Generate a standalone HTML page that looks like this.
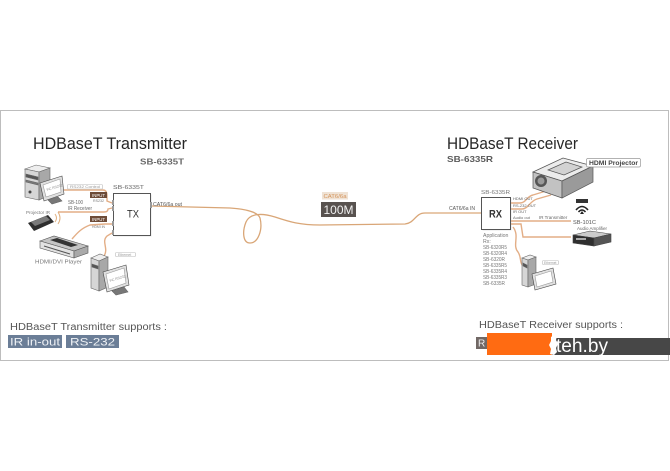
<!DOCTYPE html>
<html><head><meta charset="utf-8">
<style>html,body{margin:0;padding:0;background:#fff}svg{display:block}</style>
</head><body>
<svg width="670" height="471" viewBox="0 0 670 471" xmlns="http://www.w3.org/2000/svg" font-family="'Liberation Sans', sans-serif">
<rect x="0" y="0" width="670" height="471" fill="#fff"/>
<rect x="0.5" y="110.5" width="668" height="250" fill="#fff" stroke="#bdbdbd"/>

<!-- Titles -->
<text x="33" y="149" font-size="16.5" fill="#262626" textLength="154" lengthAdjust="spacingAndGlyphs">HDBaseT Transmitter</text>
<text x="140" y="164.5" font-size="8.5" font-weight="bold" fill="#6a6a6a" textLength="44" lengthAdjust="spacingAndGlyphs">SB-6335T</text>
<text x="447" y="149" font-size="16.5" fill="#262626" textLength="131" lengthAdjust="spacingAndGlyphs">HDBaseT Receiver</text>
<text x="447" y="162" font-size="8.5" font-weight="bold" fill="#5a5a5a" textLength="46" lengthAdjust="spacingAndGlyphs">SB-6335R</text>

<!-- main cable -->
<path d="M151,206 L230,208 C245,209 258,212 260,218 C263,230 258,243 250,243 C243,243 242,232 246,222 C250,213 262,213 275,217 C290,222 300,225 320,225 L405,224 C415,223 415,213 425,213 L481,213" fill="none" stroke="#d9a677" stroke-width="1.3"/>
<rect x="322" y="192" width="26" height="7.5" fill="#efe2d4"/>
<text x="323.5" y="198" font-size="5.8" fill="#d4935a" textLength="23" lengthAdjust="spacingAndGlyphs">CAT6/6a</text>
<rect x="321" y="202" width="35" height="15" fill="#58524f"/>
<text x="323.5" y="214" font-size="12" fill="#f2f2f2" textLength="30" lengthAdjust="spacingAndGlyphs">100M</text>

<!-- TX box -->
<rect x="114.5" y="194.5" width="37" height="42" fill="#e6e6e6"/>
<rect x="113.5" y="193.5" width="37" height="42" fill="#fff" stroke="#555"/>
<text x="127" y="217.5" font-size="11" fill="#333" textLength="12" lengthAdjust="spacingAndGlyphs">TX</text>
<text x="113" y="189" font-size="5" fill="#666" textLength="31" lengthAdjust="spacingAndGlyphs">SB-6335T</text>
<text x="153" y="206" font-size="5" fill="#555" textLength="29" lengthAdjust="spacingAndGlyphs">CAT6/6a out</text>
<rect x="150" y="202" width="2" height="6" fill="#999"/>
<rect x="112" y="200" width="2" height="5" fill="#999"/>
<rect x="112" y="206" width="2" height="5" fill="#999"/>
<rect x="112" y="221" width="2" height="5" fill="#999"/>
<rect x="112" y="230" width="2" height="5" fill="#999"/>

<!-- left connections -->
<g fill="none" stroke="#e3ae86" stroke-width="1.4">
<path d="M60,190 L103,190 Q107,190 107,196 L107,201 L112,203"/>
<path d="M58,212 L104,212 Q108,212 108,209 L112,208"/>
<path d="M72,239 C78,232 82,228 90,225 L105,224 Q109,224 112,224"/>
<path d="M104,256 C109,248 101,242 107,236 L112,233"/>
</g>
<rect x="67.5" y="184.5" width="35" height="4.5" rx="1" fill="#fff" stroke="#bbb" stroke-width=".6"/>
<text x="70" y="188.2" font-size="3.8" fill="#999" textLength="30" lengthAdjust="spacingAndGlyphs">RS232 Control</text>
<rect x="90" y="192" width="17" height="6" fill="#6e4c38"/>
<text x="92" y="196.8" font-size="4.5" fill="#fff" textLength="13" lengthAdjust="spacingAndGlyphs">INPUT</text>
<text x="93" y="202" font-size="4" fill="#777" textLength="11" lengthAdjust="spacingAndGlyphs">RS232</text>
<text x="68" y="204" font-size="5" fill="#666" textLength="15" lengthAdjust="spacingAndGlyphs">SB-100</text>
<text x="68" y="210" font-size="5" fill="#666" textLength="24" lengthAdjust="spacingAndGlyphs">IR Receiver</text>
<rect x="90" y="216" width="17" height="6" fill="#6e4c38"/>
<text x="92" y="220.8" font-size="4.5" fill="#fff" textLength="13" lengthAdjust="spacingAndGlyphs">INPUT</text>
<text x="92" y="228" font-size="4" fill="#777" textLength="13" lengthAdjust="spacingAndGlyphs">HDMI IN</text>

<!-- top-left PC -->
<g stroke="#666" stroke-width=".6">
<polygon points="25,169 36,165 50,168 39,172" fill="#eee"/>
<polygon points="25,169 39,172 39,200 25,197" fill="#d6d6d6"/>
<polygon points="39,172 50,168 50,195 39,200" fill="#a8a8a8"/>
<polygon points="26,174 38,177 38,180 26,177" fill="#555"/>
<polygon points="26,180 38,183 38,185 26,182" fill="#777"/>
<polygon points="40,183 62,176 64,194 44,201" fill="#e0e0e0" stroke="#444"/>
<polygon points="43,185 60,179 61,192 46,197" fill="#fff" stroke="#999"/>
<polygon points="48,200 58,197 62,201 52,204" fill="#777"/>
</g>
<circle cx="30" cy="192" r="1.5" fill="#444"/>
<text x="47" y="191" font-size="3.5" fill="#888" transform="rotate(-17 47 191)">PC RS232</text>

<!-- remote -->
<text x="26" y="214" font-size="4.5" fill="#777" textLength="24" lengthAdjust="spacingAndGlyphs">Projector IR</text>
<polygon points="28,223 48,215 54,222 34,231" fill="#2e2e2e"/>
<polygon points="31,222 46,216 50,220 35,226" fill="#7a7a7a"/>
<g fill="none" stroke="#e0b080" stroke-width="1">
<path d="M55,214 Q58,218 55,222"/><path d="M58,212 Q62,218 58,224"/>
</g>

<!-- HDMI player -->
<g stroke="#555" stroke-width=".6">
<polygon points="40,241 54,236 88,246 74,251" fill="#c4c4c4"/>
<polygon points="40,241 74,251 74,258 40,248" fill="#e2e2e2"/>
<polygon points="74,251 88,246 88,253 74,258" fill="#aaa"/>
</g>
<polygon points="50,240 57,238 78,245 71,247" fill="#333"/>
<line x1="44" y1="246" x2="70" y2="254" stroke="#555" stroke-width="1"/>
<text x="35" y="263.5" font-size="5" fill="#777" textLength="47" lengthAdjust="spacingAndGlyphs">HDMI/DVI Player</text>

<!-- bottom PC -->
<g stroke="#666" stroke-width=".6">
<polygon points="91,258 100,254 108,257 99,261" fill="#eee"/>
<polygon points="91,258 99,261 99,291 91,288" fill="#d6d6d6"/>
<polygon points="99,261 108,257 108,287 99,291" fill="#a8a8a8"/>
<polygon points="92,264 98,266 98,269 92,267" fill="#555"/>
<polygon points="103,272 126,265 129,285 107,292" fill="#e0e0e0" stroke="#444"/>
<polygon points="106,274 124,268 126,283 109,289" fill="#fff" stroke="#999"/>
<polygon points="112,291 124,287 128,292 116,295" fill="#777"/>
</g>
<text x="110" y="282" font-size="3.5" fill="#888" transform="rotate(-17 110 282)">PC RS232</text>
<rect x="115.5" y="252.5" width="20" height="4" rx="1" fill="#fff" stroke="#bbb" stroke-width=".6"/>
<text x="118" y="255.8" font-size="3.5" fill="#999">Ethernet</text>

<!-- RX box -->
<rect x="482.5" y="198.5" width="29" height="32" fill="#e6e6e6"/>
<rect x="481.5" y="197.5" width="29" height="32" fill="#fff" stroke="#555"/>
<text x="489" y="217.5" font-size="11" font-weight="bold" fill="#333" textLength="13" lengthAdjust="spacingAndGlyphs">RX</text>
<text x="481" y="194" font-size="5" fill="#777" textLength="29" lengthAdjust="spacingAndGlyphs">SB-6335R</text>
<text x="449" y="210" font-size="5" fill="#555" textLength="26" lengthAdjust="spacingAndGlyphs">CAT6/6a IN</text>
<g font-size="5.2" fill="#777">
<text x="483" y="237">Application</text>
<text x="483" y="243">Rx:</text>
<text x="483" y="249" textLength="24" lengthAdjust="spacingAndGlyphs">SB-6320R5</text>
<text x="483" y="255" textLength="24" lengthAdjust="spacingAndGlyphs">SB-6320R4</text>
<text x="483" y="261" textLength="22" lengthAdjust="spacingAndGlyphs">SB-6320R</text>
<text x="483" y="267" textLength="24" lengthAdjust="spacingAndGlyphs">SB-6335R5</text>
<text x="483" y="273" textLength="24" lengthAdjust="spacingAndGlyphs">SB-6335R4</text>
<text x="483" y="279" textLength="24" lengthAdjust="spacingAndGlyphs">SB-6335R3</text>
<text x="483" y="285" textLength="22" lengthAdjust="spacingAndGlyphs">SB-6335R</text>
</g>

<!-- right connections -->
<g fill="none" stroke="#e3ae86" stroke-width="1.4">
<path d="M511,203 L520,203 C526,203 527,196 533,195 L546,191"/>
<path d="M511,209 L522,209 C528,209 530,201 537,199 L551,195"/>
<path d="M511,221 L571,221"/>
<path d="M511,224 L521,224 L523,237 L571,237"/>
<path d="M513,227 C520,236 512,245 518,252 C522,258 519,262 523,266"/>
</g>
<g font-size="4" fill="#666">
<text x="513" y="200">HDMI OUT</text>
<text x="513" y="207">RS-232 OUT</text>
<text x="513" y="213">IR OUT</text>
<text x="513" y="219">Audio out</text>
<text x="539" y="219" font-size="4.5">IR Transmitter</text>
</g>
<text x="573" y="224" font-size="5" fill="#555" textLength="23" lengthAdjust="spacingAndGlyphs">SB-101C</text>

<!-- projector -->
<g stroke="#555" stroke-width=".7">
<polygon points="533,172 563,158 593,166 562,181" fill="#ececec"/>
<polygon points="533,172 562,181 562,198 533,188" fill="#c2c2c2"/>
<polygon points="562,181 593,166 593,182 562,198" fill="#9a9a9a"/>
<polygon points="548,170 566,162 582,167 564,175" fill="#d2d2d2"/>
</g>
<circle cx="541" cy="181" r="6" fill="#555"/>
<circle cx="541" cy="181" r="3.5" fill="#999"/>
<rect x="586.5" y="158.5" width="54" height="8.5" rx="1.5" fill="#fff" stroke="#999" stroke-width=".7"/>
<text x="589" y="165" font-size="6" font-weight="bold" fill="#444" textLength="49" lengthAdjust="spacingAndGlyphs">HDMI Projector</text>

<!-- IR transmitter -->
<rect x="576" y="199" width="12" height="4" fill="#333"/>
<g fill="none" stroke="#222" stroke-width="1.5">
<path d="M576,210 Q582,203 588,210"/>
<path d="M578.5,212 Q582,208 585.5,212"/>
</g>
<polygon points="580,214 582,211 584,214" fill="#222"/>

<!-- audio amp -->
<text x="577" y="230" font-size="4.5" fill="#666">Audio Amplifier</text>
<g stroke="#444" stroke-width=".6">
<polygon points="573,235 590,231 611,234 594,238" fill="#ccc"/>
<polygon points="573,235 594,238 594,246 573,243" fill="#2f2f2f"/>
<polygon points="594,238 611,234 611,242 594,246" fill="#555"/>
</g>
<rect x="576" y="238" width="10" height="2" fill="#aaa"/>

<!-- right PC -->
<g stroke="#666" stroke-width=".6">
<polygon points="522,258 530,255 536,257 528,260" fill="#eee"/>
<polygon points="522,258 528,260 528,287 522,285" fill="#d6d6d6"/>
<polygon points="528,260 536,257 536,284 528,287" fill="#a8a8a8"/>
<polygon points="523,263 527,265 527,268 523,266" fill="#555"/>
<polygon points="532,274 553,268 556,284 535,290" fill="#e0e0e0" stroke="#444"/>
<polygon points="535,276 551,271 553,282 537,287" fill="#fff" stroke="#999"/>
</g>
<rect x="542.5" y="260.5" width="16" height="4" rx="1" fill="#fff" stroke="#bbb" stroke-width=".6"/>
<text x="544" y="263.8" font-size="3.3" fill="#999">Ethernet</text>

<!-- bottom supports -->
<text x="10" y="330" font-size="10" fill="#555" textLength="157" lengthAdjust="spacingAndGlyphs">HDBaseT Transmitter supports :</text>
<rect x="8" y="335" width="54" height="13" fill="#6b7e97"/>
<text x="10" y="345.5" font-size="11" fill="#eef1f5" textLength="50" lengthAdjust="spacingAndGlyphs">IR in-out</text>
<rect x="66" y="335" width="53" height="13" fill="#6b7e97"/>
<text x="70" y="345.5" font-size="11" fill="#eef1f5" textLength="45" lengthAdjust="spacingAndGlyphs">RS-232</text>

<text x="479" y="328" font-size="10" fill="#555" textLength="144" lengthAdjust="spacingAndGlyphs">HDBaseT Receiver supports :</text>
<rect x="476" y="337" width="14" height="12" fill="#716865"/>
<text x="478" y="346.5" font-size="10" fill="#eee">R</text>
<rect x="552" y="338" width="118" height="17" fill="#474747"/>
<rect x="487" y="333" width="65" height="22" fill="#ff6b12"/>
<polygon points="551,337 554,335 557,336 556,340 558,344 556,348 557,352 554,355 550,354 551,349 549,345 551,341" fill="#fff"/>
<text x="556" y="352" font-size="19" fill="#fff" textLength="52" lengthAdjust="spacingAndGlyphs">teh.by</text>
</svg>
</body></html>
